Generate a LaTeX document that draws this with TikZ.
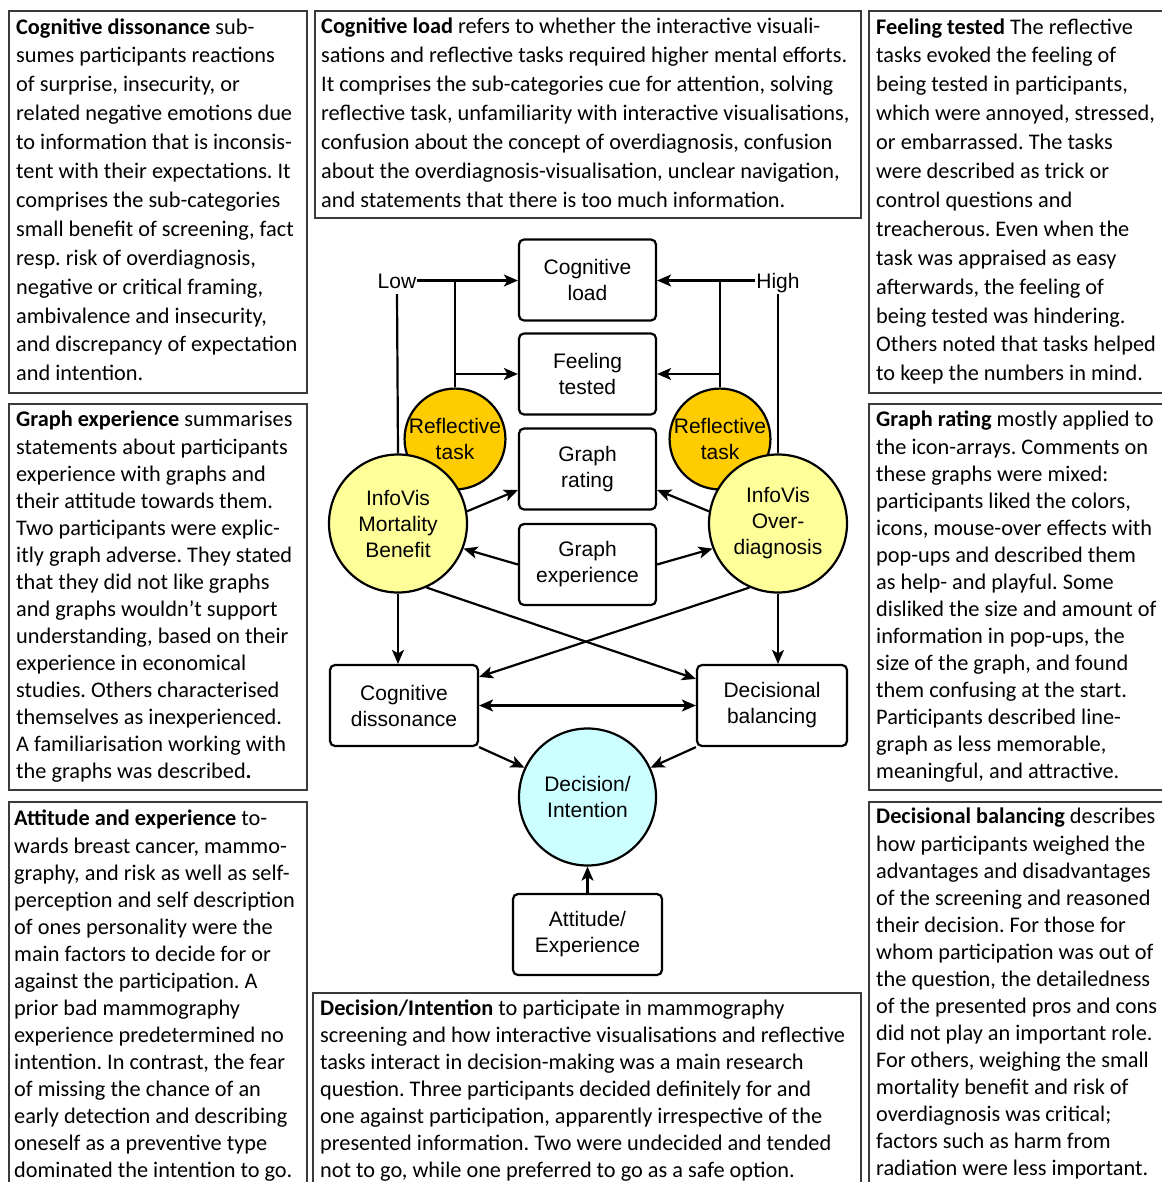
\documentclass[tikz,border=0pt]{standalone}
\usepackage{fontspec}
\setmainfont{Carlito}
\newfontfamily\diafont{Liberation Sans}
\usetikzlibrary{arrows.meta,calc}
\definecolor{infoyel}{HTML}{FFFF99}
\definecolor{refl}{HTML}{FFCC00}
\definecolor{deccyan}{HTML}{CCFFFF}
\definecolor{framegray}{HTML}{3A3A3A}
\frenchspacing
\begin{document}
\begin{tikzpicture}[x=1pt,y=-1pt,
 txt/.style={anchor=base west, inner sep=0pt, align=left, font=\fontsize{22.3}{28.9}\selectfont},
 txtb/.style={anchor=base west, inner sep=0pt, align=left, font=\fontsize{22.3}{27.05}\selectfont},
 frm/.style={draw=framegray, line width=1.4pt},
 dbox/.style={draw, line width=2.2pt, rounded corners=5pt, minimum width=137pt, minimum height=81pt, inner sep=0pt, align=center, font=\diafont\fontsize{21}{26}\selectfont},
 dcirc/.style={draw, line width=2.2pt, circle, inner sep=0pt, align=center, font=\diafont\fontsize{21}{26}\selectfont},
 lbl/.style={inner sep=1pt, text height=15pt, text depth=0pt, font=\diafont\fontsize{21}{26}\selectfont},
 tip/.tip={Stealth[length=14pt,width=12pt,inset=3.5pt]},
 arr/.style={line width=2.2pt, -tip},
 ln/.style={line width=2.2pt},
]
\useasboundingbox (0,0) rectangle (1161,1182);
\fill[white] (0,0) rectangle (1161,1182);

% text frames
\draw[frm] (9,11) rectangle (307,393);
\draw[frm] (315,11) rectangle (861,218);
\draw[frm] (869,11) rectangle (1175,393);
\draw[frm] (9,404) rectangle (307,790);
\draw[frm] (869,404) rectangle (1175,790);
\draw[frm] (9,802) rectangle (307,1195);
\draw[frm] (869,802) rectangle (1175,1195);
\draw[frm] (313,993) rectangle (861,1195);

% texts (anchored at the baseline of their last line)
\node[txt] (tcd) at (16,380.8) {\textbf{Cognitive dissonance} sub-\\
sumes participants reactions\\
of surprise, insecurity, or\\
related negative emotions due\\
to information that is inconsis-\\
tent with their expectations. It\\
comprises the sub-categories\\
small benefit of screening, fact\\
resp. risk of overdiagnosis,\\
negative or critical framing,\\
ambivalence and insecurity,\\
and discrepancy of expectation\\
and intention.};

\node[txt] (tcl) at (321,207.4) {\textbf{Cognitive load} refers to whether the interactive visuali-\\
sations and reflective tasks required higher mental efforts.\\
It comprises the sub-categories cue for attention, solving\\
reflective task, unfamiliarity with interactive visualisations,\\
confusion about the concept of overdiagnosis, confusion\\
about the overdiagnosis-visualisation, unclear navigation,\\
and statements that there is too much information.};

\node[txt] (tft) at (876,380.8) {\textbf{Feeling tested} The reflective\\
tasks evoked the feeling of\\
being tested in participants,\\
which were annoyed, stressed,\\
or embarrassed. The tasks\\
were described as trick or\\
control questions and\\
treacherous. Even when the\\
task was appraised as easy\\
afterwards, the feeling of\\
being tested was hindering.\\
Others noted that tasks helped\\
to keep the numbers in mind.};

\node[txtb] (tge) at (16,778.6) {\textbf{Graph experience} summarises\\
statements about participants\\
experience with graphs and\\
their attitude towards them.\\
Two participants were explic-\\
itly graph adverse. They stated\\
that they did not like graphs\\
and graphs wouldn’t support\\
understanding, based on their\\
experience in economical\\
studies. Others characterised\\
themselves as inexperienced.\\
A familiarisation working with\\
the graphs was described\textbf{.}};

\node[txtb] (tgr) at (876,778.6) {\textbf{Graph rating} mostly applied to\\
the icon-arrays. Comments on\\
these graphs were mixed:\\
participants liked the colors,\\
icons, mouse-over effects with\\
pop-ups and described them\\
as help- and playful. Some\\
disliked the size and amount of\\
information in pop-ups, the\\
size of the graph, and found\\
them confusing at the start.\\
Participants described line-\\
graph as less memorable,\\
meaningful, and attractive.};

\node[txtb] (tae) at (14,1177.6) {\textbf{Attitude and experience} to-\\
wards breast cancer, mammo-\\
graphy, and risk as well as self-\\
perception and self description\\
of ones personality were the\\
main factors to decide for or\\
against the participation. A\\
prior bad mammography\\
experience predetermined no\\
intention. In contrast, the fear\\
of missing the chance of an\\
early detection and describing\\
oneself as a preventive type\\
dominated the intention to go.};

\node[txtb] (tdb) at (876,1175.6) {\textbf{Decisional balancing} describes\\
how participants weighed the\\
advantages and disadvantages\\
of the screening and reasoned\\
their decision. For those for\\
whom participation was out of\\
the question, the detailedness\\
of the presented pros and cons\\
did not play an important role.\\
For others, weighing the small\\
mortality benefit and risk of\\
overdiagnosis was critical;\\
factors such as harm from\\
radiation were less important.};

\node[txtb] (tdi) at (320,1177.3) {\textbf{Decision/Intention} to participate in mammography\\
screening and how interactive visualisations and reflective\\
tasks interact in decision-making was a main research\\
question. Three participants decided definitely for and\\
one against participation, apparently irrespective of the\\
presented information. Two were undecided and tended\\
not to go, while one preferred to go as a safe option.};

% diagram nodes
\node[dbox] (cl) at (587.5,280) {Cognitive\\load};
\node[dbox] (ft) at (587.5,374) {Feeling\\tested};
\node[dbox] (gr) at (587.5,469) {Graph\\rating};
\node[dbox] (ge) at (587.5,564.5) {Graph\\experience};
\node[dcirc, fill=refl, minimum size=100pt] (rtl) at (455,439) {Reflective\\task};
\node[dcirc, fill=refl, minimum size=100pt] (rtr) at (720,439) {Reflective\\task};
\node[dcirc, fill=infoyel, minimum size=138pt] (mb) at (398,523.5) {InfoVis\\Mortality\\Benefit};
\node[dcirc, fill=infoyel, minimum size=138pt] (od) at (778,523.5) {InfoVis\\Over-\\diagnosis};
\node[dbox, minimum width=148pt] (cd) at (404,705.5) {Cognitive\\dissonance};
\node[dbox, minimum width=150pt] (db) at (772,705.5) {Decisional\\balancing};
\node[dcirc, fill=deccyan, minimum size=137pt] (dec) at (587.5,797) {Decision/\\Intention};
\node[dbox, minimum width=149pt] (att) at (587.5,934.5) {Attitude/\\Experience};
\node[lbl, anchor=base] (low) at (397,288) {Low};
\node[lbl, anchor=base] (high) at (778,288) {High};

% connectors
\draw[arr] (low.east) -- (low.east -| cl.west);
\draw[ln] (rtl.north) -- (rtl.north |- low.east);
\draw[arr] (rtl.north |- ft.west) -- (ft.west);
\draw[ln] (mb.north) -- ([yshift=-5pt]low.south);
\draw[arr] (high.west) -- (high.west -| cl.east);
\draw[ln] (rtr.north) -- (rtr.north |- high.west);
\draw[arr] (rtr.north |- ft.east) -- (ft.east);
\draw[ln] (od.north) -- ([yshift=-5pt]high.south);

\draw[arr] (mb.10) -- ([yshift=-21pt]gr.west);
\draw[arr] (od.170) -- ([yshift=-21pt]gr.east);
\draw[arr] (ge.west) -- (mb.-21);
\draw[arr] (ge.east) -- (od.-159);
\draw[arr] (mb.south) -- (mb.south |- cd.north);
\draw[arr] (od.south) -- (od.south |- db.north);
\draw[arr] (mb.-66) -- ([yshift=-15pt]db.north west);
\draw[arr] (od.-114) -- ([yshift=-13pt]cd.north east);
\draw[line width=2.2pt, tip-tip] (cd.east) -- (db.west);
\draw[arr] (cd.south east) -- (dec.155);
\draw[arr] (db.south west) -- (dec.25);
\draw[arr] (att.north) -- (dec.south);
\end{tikzpicture}
\end{document}
